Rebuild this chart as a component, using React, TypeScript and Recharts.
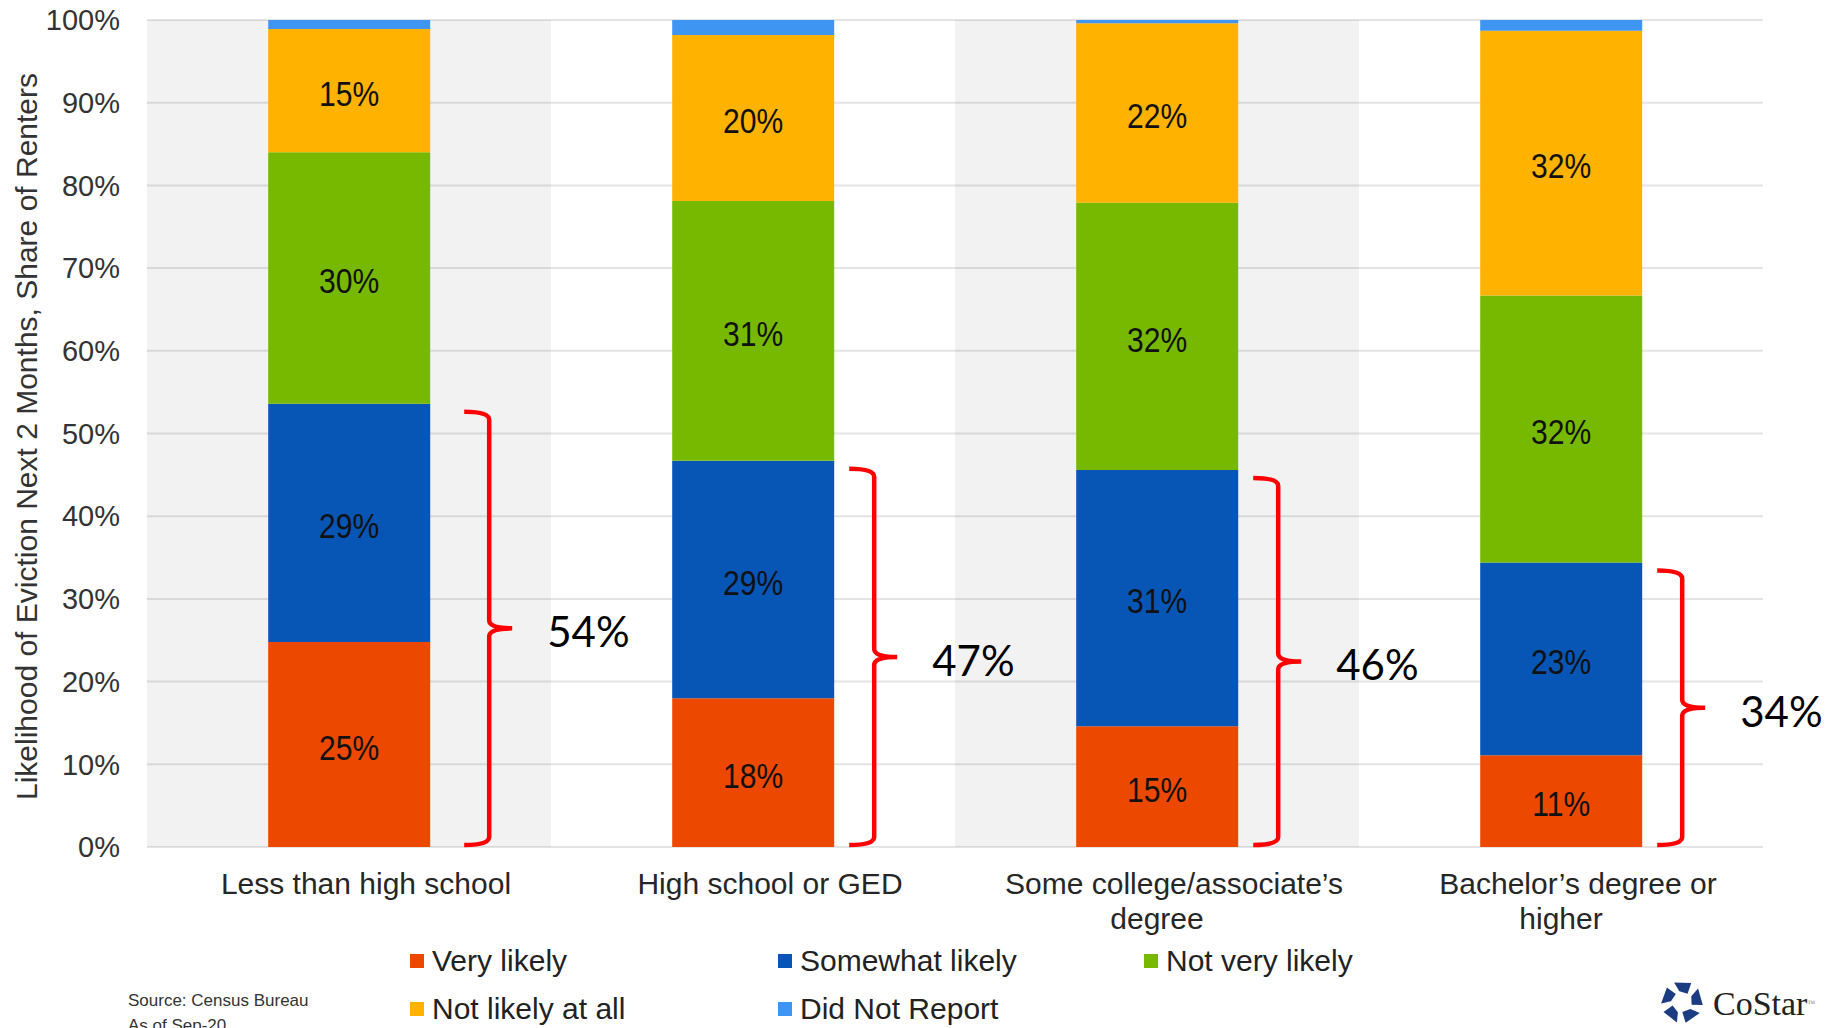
import React from 'react';
import { BarChart, Bar, XAxis, YAxis, CartesianGrid, ReferenceArea, LabelList, Label } from 'recharts';

const categories = [
  'Less than high school',
  'High school or GED',
  'Some college/associate\u2019s degree',
  'Bachelor\u2019s degree or higher',
];
const categoryLines = [
  ['Less than high school'],
  ['High school or GED'],
  ['Some college/associate\u2019s', 'degree'],
  ['Bachelor\u2019s degree or', 'higher'],
];
const veryLikely = [24.8, 18.0, 14.6, 11.1];
const somewhatLikely = [28.8, 28.7, 31.0, 23.3];
const notVeryLikely = [30.4, 31.4, 32.3, 32.3];
const notLikelyAtAll = [14.9, 20.1, 21.7, 32.0];
const didNotReport = [1.1, 1.8, 0.4, 1.3];
const yTicks = [0, 10, 20, 30, 40, 50, 60, 70, 80, 90, 100];
const seriesKeys = ['very', 'somewhat', 'notVery', 'notAtAll', 'dnr'];
const seriesNames = ['Very likely', 'Somewhat likely', 'Not very likely', 'Not likely at all', 'Did Not Report'];
const seriesColors = ['#EC4800', '#0755B5', '#77B900', '#FFB200', '#3E95F2'];
const seriesValues = [veryLikely, somewhatLikely, notVeryLikely, notLikelyAtAll, didNotReport];
const shadedCategories = [categories[0], categories[2]];

const data = categories.map((c, i) => ({
  category: c,
  very: veryLikely[i],
  somewhat: somewhatLikely[i],
  notVery: notVeryLikely[i],
  notAtAll: notLikelyAtAll[i],
  dnr: didNotReport[i],
}));

const SANS = '"Liberation Sans", Arial, sans-serif';
const bracketNudge = [19, 0, 0, 0];

const makeSegmentLabel = (values: number[]) => (props: any) => {
  const { x, y, width, height, index } = props;
  if (index == null || height < 20) return null;
  const v = values[index];
  const cx = Number(x) + Number(width) / 2;
  const cy = Number(y) + Number(height) / 2 + 3;
  return (
    <text
      transform={`translate(${cx}, ${cy}) scale(0.86, 1)`}
      x={0}
      y={0}
      textAnchor="middle"
      dominantBaseline="central"
      fontFamily={SANS}
      fontSize={35}
      fill="#111"
    >
      {Math.round(v)}%
    </text>
  );
};

const BracketLabel = (props: any) => {
  const { x, y, width, height, index } = props;
  if (index == null) return null;
  const bottomVal = Number(y) + Number(height);
  const pxPer = Number(height) / veryLikely[index];
  const total = veryLikely[index] + somewhatLikely[index];
  const top = bottomVal - total * pxPer + 8;
  const bottom = bottomVal - 2;
  const mid = (top + bottom) / 2;
  const right = Number(x) + Number(width) + bracketNudge[index];
  const xl = right + 15;
  const xv = right + 40;
  const xt = right + 63;
  const r = 8;
  const d = `M ${xl} ${top} Q ${xv} ${top} ${xv} ${top + r} L ${xv} ${mid - r} Q ${xv} ${mid} ${xt} ${mid} Q ${xv} ${mid} ${xv} ${mid + r} L ${xv} ${bottom - r} Q ${xv} ${bottom} ${xl} ${bottom}`;
  return (
    <g>
      <path d={d} fill="none" stroke="#FF0000" strokeWidth={4.5} />
      <text
        x={right + 98}
        y={mid + 3}
        dominantBaseline="central"
        fontFamily='Lato, "Open Sans", sans-serif'
        fontSize={42}
        fill="#000"
      >
        {Math.round(total)}%
      </text>
    </g>
  );
};

const CategoryTick = (props: any) => {
  const { x, y, index } = props;
  const lines = categoryLines[index] || [String(props.payload?.value ?? '')];
  return (
    <g>
      {lines.map((ln: string, i: number) => (
        <text
          key={i}
          x={Number(x) + (i === 0 ? 17 : 0)}
          y={Number(y) + 36 + i * 35}
          textAnchor="middle"
          dominantBaseline="central"
          fontFamily={SANS}
          fontSize={30}
          fill="#262626"
        >
          {ln}
        </text>
      ))}
    </g>
  );
};

const YAxisTitle = (props: any) => {
  const vb = props.viewBox || { x: 47, y: 20, width: 100, height: 827 };
  const cx = vb.x - 21;
  const cy = vb.y + vb.height / 2 + 3;
  return (
    <text
      x={cx}
      y={cy}
      transform={`rotate(-90, ${cx}, ${cy})`}
      textAnchor="middle"
      dominantBaseline="central"
      fontFamily={SANS}
      fontSize={30}
      fill="#333"
    >
      Likelihood of Eviction Next 2 Months, Share of Renters
    </text>
  );
};

const CoStarLogo = () => {
  const cx = 22;
  const cy = 22;
  const pieces = [0, 1, 2, 3, 4].map((k) => {
    const base = -90 + k * 72;
    const pt = (ang: number, r: number) => {
      const a = (ang * Math.PI) / 180;
      return `${(cx + r * Math.cos(a)).toFixed(1)},${(cy + r * Math.sin(a)).toFixed(1)}`;
    };
    return [pt(base - 22, 21), pt(base + 26, 21), pt(base + 34, 10), pt(base - 14, 11)].join(' ');
  });
  return (
    <svg width={44} height={44} style={{ position: 'absolute', left: 1660, top: 980 }}>
      {pieces.map((p, i) => (
        <polygon key={i} points={p} fill="#1C3C82" />
      ))}
    </svg>
  );
};

export default function App() {
  const legendCols = [410, 778, 1144];
  const legendRows = [961, 1009];
  return (
    <div style={{ position: 'absolute', left: 0, top: 0, width: 1827, height: 1028, background: '#fff', overflow: 'hidden' }}>
      <BarChart
        width={1827}
        height={1028}
        data={data}
        margin={{ top: 20, right: 64, bottom: 0, left: 47 }}
        barCategoryGap="30%"
      >
        {shadedCategories.map((c) => (
          <ReferenceArea key={c} x1={c} x2={c} y1={0} y2={100} fill="#000" fillOpacity={0.052} stroke="none" ifOverflow="extendDomain" />
        ))}
        <CartesianGrid vertical={false} stroke="#E4E4E4" strokeWidth={2} />
        <XAxis
          dataKey="category"
          axisLine={false}
          tickLine={false}
          tickSize={0}
          tickMargin={0}
          height={181}
          interval={0}
          tick={<CategoryTick />}
        />
        <YAxis
          domain={[0, 100]}
          ticks={yTicks}
          tickFormatter={(v: number) => `${v}%`}
          axisLine={false}
          tickLine={false}
          tickSize={0}
          tickMargin={27}
          width={100}
          tick={{ fontSize: 29, fill: '#333', fontFamily: SANS }}
          interval={0}
        >
          <Label content={<YAxisTitle />} position="center" />
        </YAxis>
        {seriesKeys.map((k, si) => (
          <Bar key={k} dataKey={k} name={seriesNames[si]} stackId="a" fill={seriesColors[si]} isAnimationActive={false}>
            {si < 4 && <LabelList dataKey={k} content={makeSegmentLabel(seriesValues[si])} />}
            {si === 0 && <LabelList dataKey={k} content={<BracketLabel />} />}
          </Bar>
        ))}
      </BarChart>

      {seriesNames.map((n, i) => {
        const col = i % 3;
        const row = Math.floor(i / 3);
        return (
          <div
            key={n}
            style={{
              position: 'absolute',
              left: legendCols[col],
              top: legendRows[row] - 18,
              height: 36,
              display: 'flex',
              alignItems: 'center',
              fontFamily: SANS,
              fontSize: 30,
              color: '#222',
              whiteSpace: 'nowrap',
            }}
          >
            <span style={{ display: 'inline-block', width: 14, height: 14, background: seriesColors[i], marginRight: 8 }} />
            {n}
          </div>
        );
      })}

      <div style={{ position: 'absolute', left: 128, top: 988, fontFamily: SANS, fontSize: 17, color: '#333', lineHeight: '25px' }}>
        Source: Census Bureau
        <br />
        As of Sep-20
      </div>

      <CoStarLogo />
      <div
        style={{
          position: 'absolute',
          left: 1713,
          top: 984,
          fontFamily: '"Liberation Serif", "DejaVu Serif", serif',
          fontSize: 34,
          color: '#222',
          lineHeight: '40px',
        }}
      >
        CoStar<span style={{ fontSize: 8, verticalAlign: 'top', color: '#888' }}>™</span>
      </div>
    </div>
  );
}
